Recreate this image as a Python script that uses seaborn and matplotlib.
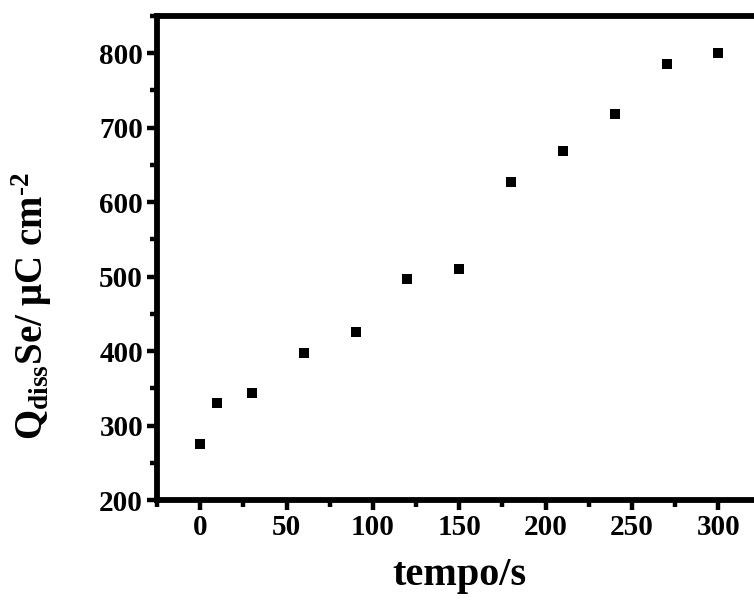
import matplotlib
matplotlib.use("Agg")
import matplotlib.pyplot as plt
from matplotlib.ticker import MultipleLocator
import seaborn as sns
import pandas as pd

tempo = [0, 10, 30, 60, 90, 120, 150, 180, 210, 240, 270, 300]
qdiss = [275, 330, 344, 397, 426, 497, 510, 627, 669, 718, 786, 800]

df = pd.DataFrame({"tempo": tempo, "q": qdiss})

sns.set_style("ticks")
plt.rcParams["font.family"] = ["Liberation Serif", "DejaVu Serif"]
plt.rcParams["font.weight"] = "bold"
plt.rcParams["text.color"] = "black"
plt.rcParams["axes.labelcolor"] = "black"
plt.rcParams["xtick.color"] = "black"
plt.rcParams["ytick.color"] = "black"
plt.rcParams["axes.unicode_minus"] = False
plt.rcParams["mathtext.fontset"] = "custom"
plt.rcParams["mathtext.rm"] = "Liberation Serif:bold"
plt.rcParams["mathtext.it"] = "Liberation Serif:bold"
plt.rcParams["mathtext.bf"] = "Liberation Serif:bold"

fig = plt.figure(figsize=(7.54, 6.02), dpi=100)
ax = fig.add_axes([0.2082, 0.1694, 0.8018, 0.804])

sns.scatterplot(data=df, x="tempo", y="q", marker="s", s=50, color="black",
                linewidth=0, ax=ax, legend=False)

ax.set_xlim(-25, 325)
ax.set_ylim(200, 850)
ax.xaxis.set_major_locator(MultipleLocator(50))
ax.xaxis.set_minor_locator(MultipleLocator(25))
ax.yaxis.set_major_locator(MultipleLocator(100))
ax.yaxis.set_minor_locator(MultipleLocator(50))

for s in ax.spines.values():
    s.set_linewidth(4.2)
    s.set_color("black")

ax.tick_params(which="major", direction="out", length=7, width=3.2,
               labelsize=21, pad=3, top=False, right=False, colors="black")
ax.tick_params(which="minor", direction="out", length=5, width=3.2,
               top=False, right=False, colors="black")
for lab in ax.get_xticklabels() + ax.get_yticklabels():
    lab.set_fontweight("bold")

ax.set_xlabel("tempo/s", fontsize=29, fontweight="bold", color="black")
ax.set_ylabel("Q$_{\\rm diss}$Se/ μC $\\rm cm^{\u20102}$",
              fontsize=28, fontweight="bold", color="black")
ax.xaxis.set_label_coords(0.5, -0.118)
ax.yaxis.set_label_coords(-0.17, 0.40)

fig.savefig("out.png", dpi=100)
